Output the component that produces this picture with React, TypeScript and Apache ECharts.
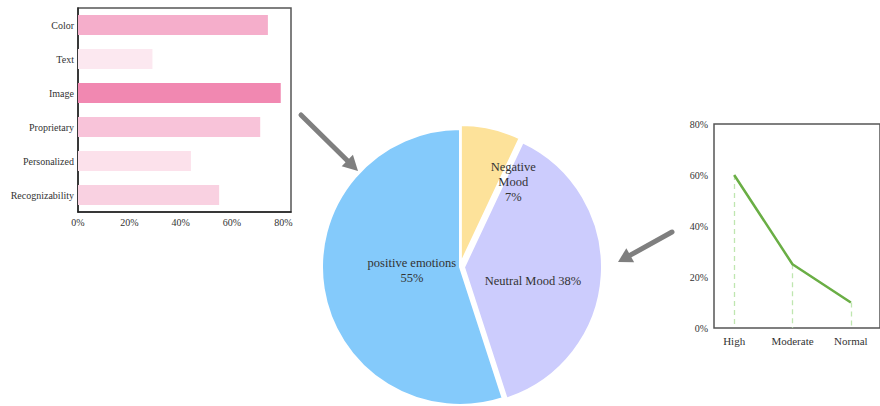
import React, { useEffect, useRef } from "react";
import * as echarts from "echarts";

// Brand-feature ratings (bar chart, top left)
const featureNames = ["Color", "Text", "Image", "Proprietary", "Personalized", "Recognizability"];
const featureShares = [74, 29, 79, 71, 44, 55];
const featureColors = ["#F5AECB", "#FCE8F0", "#F188B1", "#F8C3D9", "#FCE1EB", "#F9D1E1"];
const featureTickStep = 20;
const featureMax = 83;

// Mood distribution (pie, centre)
const moodNames = ["Negative Mood", "Neutral Mood", "positive emotions"];
const moodShares = [7, 38, 55];
const moodColors = ["#FDE29A", "#CCCCFD", "#84CAFB"];

// Arousal level (line chart, right)
const levelNames = ["High", "Moderate", "Normal"];
const levelShares = [60, 25, 10];
const levelTickStep = 20;
const levelMax = 80;

const SERIF = "Liberation Serif";
const TEXT = "#333";
const ARROW = "#7f7f7f";

function arrow(x1: number, y1: number, x2: number, y2: number, head: number, half: number) {
  const len = Math.hypot(x2 - x1, y2 - y1);
  const ux = (x2 - x1) / len;
  const uy = (y2 - y1) / len;
  const bx = x2 - ux * head;
  const by = y2 - uy * head;
  return [
    {
      type: "line",
      shape: { x1, y1, x2: bx + ux, y2: by + uy },
      style: { stroke: ARROW, lineWidth: 5, lineCap: "round" },
      z: 10,
    },
    {
      type: "polygon",
      shape: {
        points: [
          [x2, y2],
          [bx - uy * half, by + ux * half],
          [bx + uy * half, by - ux * half],
        ],
      },
      style: { fill: ARROW },
      z: 10,
    },
  ];
}

// Per-slice label nudges from the default inside position
const moodLabelOffsets = [
  [23, -12],
  [0, 11],
  [23, -8],
];

function moodLabel(i: number, name: string, value: number) {
  if (i === 0) return name.replace(" ", "\n") + "\n" + value + "%";
  if (i === 1) return name + " " + value + "%";
  return name + "\n" + value + "%";
}

export default function App() {
  const ref = useRef<HTMLDivElement>(null);

  useEffect(() => {
    if (!ref.current) return;
    const chart = echarts.init(ref.current, null, { renderer: "svg" });

    const pieLabel = {
      show: true,
      position: "inside",
      fontFamily: SERIF,
      fontSize: 12.5,
      lineHeight: 15,
      color: TEXT,
    };

    const option: any = {
      animation: false,
      backgroundColor: "#fff",
      textStyle: { fontFamily: SERIF },
      grid: [
        // bar chart
        { left: 78, top: 8, width: 213, height: 204, show: true, borderColor: "#555", borderWidth: 1.5 },
        // line chart data area
        { left: 705, top: 124, width: 186, height: 204 },
        // line chart frame
        { left: 714, top: 124, width: 200, height: 204, show: true, borderColor: "#555", borderWidth: 1.5 },
      ],
      xAxis: [
        {
          gridIndex: 0,
          type: "value",
          min: 0,
          max: featureMax,
          interval: featureTickStep,
          splitLine: { show: false },
          axisTick: { show: false },
          axisLine: { show: true, lineStyle: { color: "#222", width: 1.5 } },
          axisLabel: {
            formatter: "{value}%",
            showMaxLabel: false,
            fontFamily: SERIF,
            fontSize: 10,
            color: TEXT,
            margin: 5,
          },
        },
        {
          gridIndex: 1,
          type: "category",
          data: levelNames,
          boundaryGap: true,
          axisLine: { show: false },
          axisTick: { show: false },
          axisLabel: { fontFamily: SERIF, fontSize: 11, color: TEXT, margin: 7 },
        },
        { gridIndex: 2, type: "value", show: false, min: 0, max: 1 },
      ],
      yAxis: [
        {
          gridIndex: 0,
          type: "category",
          data: featureNames,
          inverse: true,
          axisTick: { show: false },
          axisLine: { show: true, lineStyle: { color: "#222", width: 1.5 } },
          axisLabel: { fontFamily: SERIF, fontSize: 10, color: TEXT, margin: 4 },
        },
        {
          gridIndex: 1,
          type: "value",
          min: 0,
          max: levelMax,
          interval: levelTickStep,
          offset: -9,
          splitLine: { show: false },
          axisTick: { show: false },
          axisLine: { show: false },
          axisLabel: { formatter: "{value}%", fontFamily: SERIF, fontSize: 10, color: TEXT, margin: 6 },
        },
        { gridIndex: 2, type: "value", show: false, min: 0, max: 1 },
      ],
      series: [
        {
          type: "bar",
          xAxisIndex: 0,
          yAxisIndex: 0,
          barWidth: 20,
          data: featureShares.map((v, i) => ({ value: v, itemStyle: { color: featureColors[i] } })),
        },
        {
          type: "line",
          xAxisIndex: 1,
          yAxisIndex: 1,
          data: levelShares,
          symbol: "none",
          lineStyle: { color: "#6AAE45", width: 2.5 },
          z: 5,
          markLine: {
            silent: true,
            symbol: ["none", "none"],
            label: { show: false },
            lineStyle: { color: "#BFE6B0", width: 1.3, type: [5, 4] },
            data: levelShares.map((v, i) => [
              { coord: [levelNames[i], v] },
              { coord: [levelNames[i], 0] },
            ]),
          },
        },
        {
          type: "pie",
          center: [460, 267],
          radius: 138,
          startAngle: 90,
          clockwise: true,
          selectedMode: "multiple",
          selectedOffset: 4,
          itemStyle: { borderColor: "#fff", borderWidth: 2 },
          emphasis: { disabled: true },
          label: pieLabel,
          select: { label: pieLabel },
          labelLine: { show: false },
          data: moodShares.map((v, i) => {
            const lbl = { ...pieLabel, offset: moodLabelOffsets[i], formatter: moodLabel(i, moodNames[i], v) };
            return {
              name: moodNames[i],
              value: v,
              selected: i < 2,
              itemStyle: { color: moodColors[i] },
              label: lbl,
              select: { label: lbl, itemStyle: { color: moodColors[i] } },
            };
          }),
        },
      ],
      graphic: [...arrow(301, 115, 358, 171, 15, 8), ...arrow(672, 232, 618, 262, 14, 8)],
    };

    chart.setOption(option);
    return () => chart.dispose();
  }, []);

  return (
    <div
      ref={ref}
      style={{ position: "absolute", left: 0, top: 0, width: 880, height: 406 }}
    />
  );
}
